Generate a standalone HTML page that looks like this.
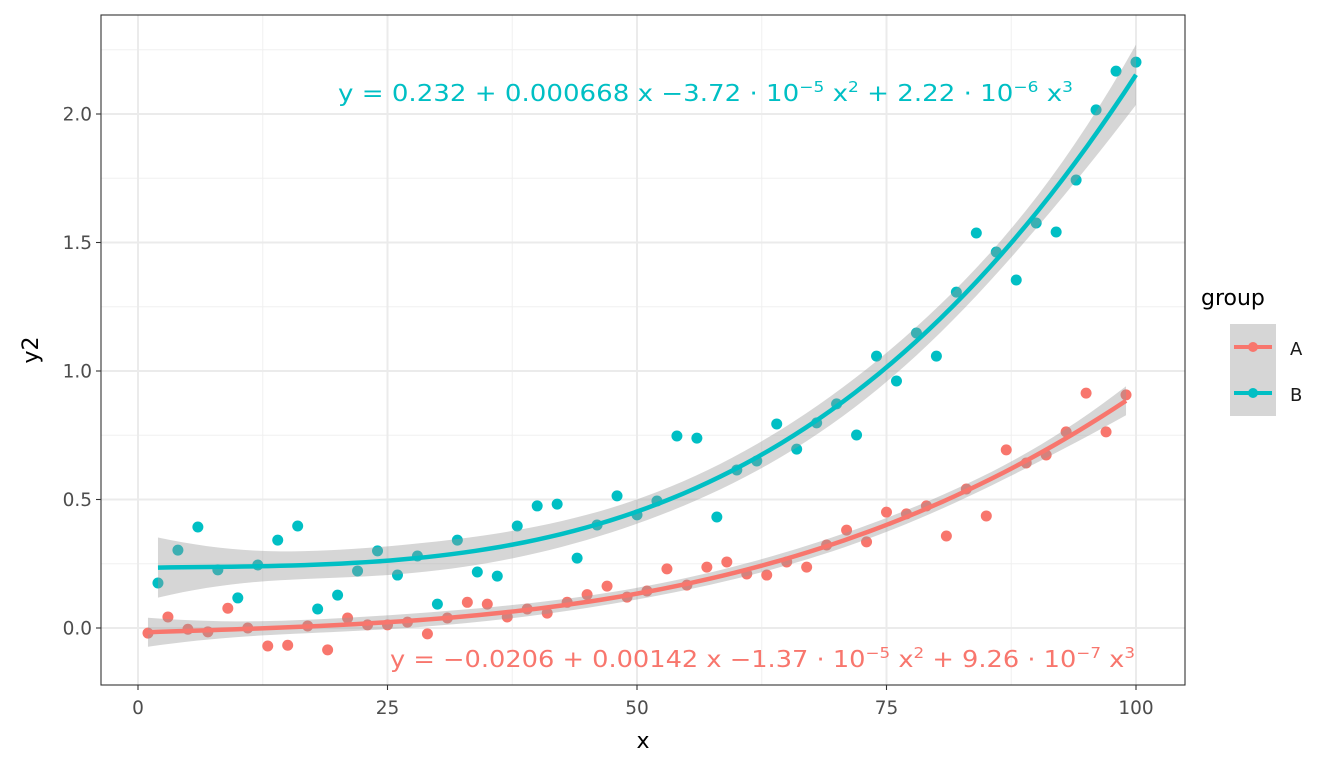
<!DOCTYPE html>
<html><head><meta charset="utf-8"><style>
html,body{margin:0;padding:0;background:#fff;}
svg{display:block;font-family:"DejaVu Sans","Liberation Sans",sans-serif;}
</style></head><body>
<svg id="chart" width="1344" height="768" viewBox="0 0 1344 768">
<rect x="0" y="0" width="1344" height="768" fill="#fff"/>
<g id="grid"></g>
<g id="pts"></g>
<g id="fits"></g>
<rect x="101" y="15" width="1084" height="670" fill="none" stroke="#333" stroke-width="1.1"/>
<g id="axes"></g>
<text x="338" y="101" fill="#00BFC4" font-size="23" textLength="735" lengthAdjust="spacingAndGlyphs">y = 0.232 + 0.000668 x −3.72 · 10<tspan dy="-9" font-size="15">−5</tspan><tspan dy="9"> x</tspan><tspan dy="-9" font-size="15">2</tspan><tspan dy="9"> + 2.22 · 10</tspan><tspan dy="-9" font-size="15">−6</tspan><tspan dy="9"> x</tspan><tspan dy="-9" font-size="15">3</tspan></text>
<text x="390" y="667" fill="#F8766D" font-size="23" textLength="745" lengthAdjust="spacingAndGlyphs">y = −0.0206 + 0.00142 x −1.37 · 10<tspan dy="-9" font-size="15">−5</tspan><tspan dy="9"> x</tspan><tspan dy="-9" font-size="15">2</tspan><tspan dy="9"> + 9.26 · 10</tspan><tspan dy="-9" font-size="15">−7</tspan><tspan dy="9"> x</tspan><tspan dy="-9" font-size="15">3</tspan></text>
<text x="643" y="748" font-size="22" text-anchor="middle" fill="#000">x</text>
<text transform="translate(38,350) rotate(-90)" font-size="22" text-anchor="middle" fill="#000">y2</text>
<g>
<text x="1201" y="305" font-size="22" fill="#000">group</text>
<rect x="1230" y="324" width="46" height="46" fill="#d6d6d6"/>
<rect x="1230" y="370" width="46" height="46" fill="#d6d6d6"/>
<line x1="1234" y1="347" x2="1272" y2="347" stroke="#F8766D" stroke-width="4"/>
<circle cx="1253" cy="347" r="5" fill="#F8766D"/>
<line x1="1234" y1="393" x2="1272" y2="393" stroke="#00BFC4" stroke-width="4"/>
<circle cx="1253" cy="393" r="5" fill="#00BFC4"/>
<text x="1290" y="355" font-size="18" fill="#1a1a1a">A</text>
<text x="1290" y="401" font-size="18" fill="#1a1a1a">B</text>
</g>
</svg>
<script>
const aX=[1,3,5,7,9,11,13,15,17,19,21,23,25,27,29,31,33,35,37,39,41,43,45,47,49,51,53,55,57,59,61,63,65,67,69,71,73,75,77,79,81,83,85,87,89,91,93,95,97,99];
const aY=[-0.02,0.043,-0.005,-0.015,0.077,0.0,-0.07,-0.067,0.008,-0.085,0.039,0.012,0.012,0.023,-0.023,0.039,0.1,0.093,0.043,0.074,0.058,0.1,0.13,0.163,0.12,0.144,0.23,0.167,0.237,0.257,0.21,0.206,0.257,0.237,0.323,0.381,0.335,0.451,0.444,0.475,0.358,0.541,0.436,0.693,0.642,0.673,0.763,0.914,0.763,0.907];
const bX=[2,4,6,8,10,12,14,16,18,20,22,24,26,28,30,32,34,36,38,40,42,44,46,48,50,52,54,56,58,60,62,64,66,68,70,72,74,76,78,80,82,84,86,88,90,92,94,96,98,100];
const bY=[0.175,0.303,0.393,0.226,0.117,0.245,0.342,0.397,0.074,0.128,0.222,0.3,0.206,0.28,0.093,0.342,0.218,0.202,0.397,0.475,0.482,0.272,0.401,0.514,0.44,0.494,0.747,0.739,0.432,0.615,0.65,0.794,0.696,0.798,0.872,0.751,1.058,0.961,1.148,1.058,1.307,1.537,1.463,1.354,1.576,1.541,1.743,2.016,2.167,2.202];
const xTicks=[0,25,50,75,100];
const yTicks=[0,0.5,1.0,1.5,2.0];
const xTickLabels=["0","25","50","75","100"];
const yTickLabels=["0.0","0.5","1.0","1.5","2.0"];

const NS="http://www.w3.org/2000/svg";
const sx=v=>138+v*9.98;
const sy=v=>628-v*257;
function mk(tag,attrs,parent){const e=document.createElementNS(NS,tag);for(const k in attrs)e.setAttribute(k,attrs[k]);parent.appendChild(e);return e;}
const grid=document.getElementById('grid'),axes=document.getElementById('axes');
for(let i=0;i<4;i++){const v=12.5+25*i;const l=mk('line',{x1:sx(v),x2:sx(v),y1:15,y2:685,stroke:'#f0f0f0','stroke-width':1},grid);

}
for(let i=-1;i<5;i++){const v=0.25+0.5*i;if(sy(v)<15||sy(v)>685)continue;const l=mk('line',{x1:101,x2:1185,y1:sy(v),y2:sy(v),stroke:'#f0f0f0','stroke-width':1},grid);

}
xTicks.forEach((v,i)=>{const l=mk('line',{x1:sx(v),x2:sx(v),y1:15,y2:685,stroke:'#ebebeb','stroke-width':2},grid);


mk('line',{x1:sx(v),x2:sx(v),y1:685,y2:690,stroke:'#333','stroke-width':1.1},axes);
const t=mk('text',{x:sx(v),y:714,'font-size':18.5,'text-anchor':'middle',fill:'#4d4d4d'},axes);t.textContent=xTickLabels[i];

});
yTicks.forEach((v,i)=>{const l=mk('line',{x1:101,x2:1185,y1:sy(v),y2:sy(v),stroke:'#ebebeb','stroke-width':2},grid);


mk('line',{x1:96,x2:101,y1:sy(v),y2:sy(v),stroke:'#333','stroke-width':1.1},axes);
const t=mk('text',{x:92,y:sy(v)+6.5,'font-size':18.5,'text-anchor':'end',fill:'#4d4d4d'},axes);t.textContent=yTickLabels[i];

});

const pts=document.getElementById('pts'),fits=document.getElementById('fits');
function drawPts(X,Y,col,name){X.forEach((x,i)=>{const c=mk('circle',{cx:sx(x),cy:sy(Y[i]),r:5.5,fill:col},pts);

});}
drawPts(aX,aY,'#F8766D','point-a');drawPts(bX,bY,'#00BFC4','point-b');

function inv(M){const n=M.length;const A=M.map((r,i)=>r.concat(M.map((_,j)=>i===j?1:0)));
for(let i=0;i<n;i++){let p=i;for(let r=i+1;r<n;r++)if(Math.abs(A[r][i])>Math.abs(A[p][i]))p=r;[A[i],A[p]]=[A[p],A[i]];
const d=A[i][i];for(let j=0;j<2*n;j++)A[i][j]/=d;for(let r=0;r<n;r++)if(r!==i){const f=A[r][i];for(let j=0;j<2*n;j++)A[r][j]-=f*A[i][j];}}
return A.map(r=>r.slice(n));}
function fit(X,Y,col,name){
 const s=50;const row=x=>{const u=x/s;return [1,u,u*u,u*u*u];};
 const XtX=[[0,0,0,0],[0,0,0,0],[0,0,0,0],[0,0,0,0]],XtY=[0,0,0,0];
 X.forEach((x,i)=>{const r=row(x);for(let a=0;a<4;a++){XtY[a]+=r[a]*Y[i];for(let b=0;b<4;b++)XtX[a][b]+=r[a]*r[b];}});
 const Inv=inv(XtX);const beta=Inv.map(r=>r.reduce((s2,v,j)=>s2+v*XtY[j],0));
 const pred=x=>row(x).reduce((s2,v,j)=>s2+v*beta[j],0);
 let rss=0;X.forEach((x,i)=>{rss+=(Y[i]-pred(x))**2;});const s2=rss/(X.length-4);
 const se=x=>{const r=row(x);let q=0;for(let a=0;a<4;a++)for(let b=0;b<4;b++)q+=r[a]*Inv[a][b]*r[b];return Math.sqrt(s2*q);};
 const x0=Math.min(...X),x1=Math.max(...X);const up=[],lo=[],ln=[];
 for(let k=0;k<=80;k++){const x=x0+(x1-x0)*k/80;const p=pred(x),e=2.014*se(x);
  up.push(sx(x)+','+sy(p+e));lo.unshift(sx(x)+','+sy(p-e));ln.push(sx(x)+','+sy(p));}
 const rb=mk('polygon',{points:up.concat(lo).join(' '),fill:'#999999','fill-opacity':0.4},fits);
 
 
 const pl=mk('polyline',{points:ln.join(' '),fill:'none',stroke:col,'stroke-width':4.5},fits);
 
 }
fit(aX,aY,'#F8766D','fit-a');fit(bX,bY,'#00BFC4','fit-b');
</script>
</body></html>
